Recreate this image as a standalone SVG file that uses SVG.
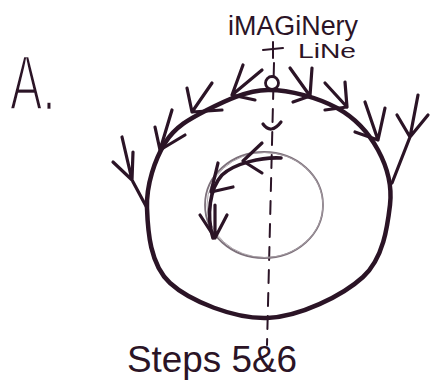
<svg xmlns="http://www.w3.org/2000/svg" width="433" height="391" viewBox="0 0 433 391">
  <style>
    .ink { fill: none; stroke: #2b1426; stroke-linecap: round; stroke-linejoin: round; }
    .arm { fill: none; stroke: #2b1426; stroke-width: 3.2; stroke-linecap: round; }
    .lbl { font-family: "Liberation Sans", Arial, sans-serif; fill: #2b1426; }
  </style>
  <rect width="433" height="391" fill="#ffffff"/>

  <g id="label-a">
    <text class="lbl" transform="translate(10,110) scale(0.62,1)" font-size="78" style="stroke:#ffffff;stroke-width:2.4">A.</text>
  </g>

  <g id="imaginary-line-label">
    <text class="lbl" x="228" y="35" font-size="27" textLength="130" lengthAdjust="spacingAndGlyphs">iMAGiNery</text>
    <text class="lbl" x="298" y="58" font-size="21" textLength="58" lengthAdjust="spacingAndGlyphs">LiNe</text>
  </g>

  <g id="steps-label">
    <text class="lbl" x="127" y="372" font-size="37" textLength="170" lengthAdjust="spacingAndGlyphs">Steps 5&amp;6</text>
  </g>

  <g id="connectors">
    <!-- imaginary vertical line -->
    <line x1="273" y1="42" x2="273" y2="58" class="ink" stroke-width="2"/>
    <line x1="263" y1="50" x2="283" y2="48" class="ink" stroke-width="2"/>
    <line x1="274" y1="63" x2="267" y2="345" class="ink" stroke-width="2" stroke-dasharray="13 10" stroke-linecap="butt"/>
  </g>

  <g id="outer-circle">
    <path class="ink" stroke-width="4.5" d="M268,90 C289.7,89.7 318.7,98 337,108 C355.3,118 369.2,133.8 378,150 C386.8,166.2 392.5,183.8 390,205 C387.5,226.2 383.5,258.2 363,277 C342.5,295.8 299.2,317 267,318 C234.8,319 190,301.3 170,283 C150,264.7 147.8,231.3 147,208 C146.2,184.7 155,159.3 165,143 C175,126.7 189.8,118.8 207,110 C224.2,101.2 246.3,90.3 268,90 Z"/>
    <!-- left-side chevrons -->
    <path class="arm" d="M243,65 L232,95 M262,70 L232,95 M255,100 L232,95"/>
    <path class="arm" d="M187,88 L192,112 M212,83 L192,112 M222,110 L192,112"/>
    <path class="arm" d="M155,127 L160,150 M172,110 L160,150 M185,135 L160,150"/>
    <!-- left branch -->
    <path class="arm" d="M147,208 L132,180 M113,162 L132,180 M122,137 L132,180 M133,152 L132,180"/>
    <!-- right-side chevrons -->
    <path class="arm" d="M290,68 L310,96 M312,68 L310,96 M293,102 L310,96"/>
    <path class="arm" d="M325,83 L347,107 M345,82 L347,107 M325,110 L347,107"/>
    <path class="arm" d="M365,102 L378,140 M385,108 L378,140 M355,132 L378,140"/>
    <!-- right branch -->
    <path class="arm" d="M392,183 L410,137 M397,115 L410,137 M418,95 L410,137 M428,115 L410,137"/>
  </g>

  <g id="top-marker">
    <circle cx="272" cy="83" r="6.5" fill="#ffffff" stroke="#2b1426" stroke-width="2.8"/>
    <path class="ink" stroke-width="3.2" d="M263,124 Q271,135 281,122"/>
  </g>

  <g id="inner-circle">
    <ellipse cx="264" cy="205" rx="59" ry="53" fill="none" stroke="#7d717b" stroke-width="1.8"/>
    <ellipse cx="265" cy="205" rx="58" ry="52.5" fill="none" stroke="#a79ea5" stroke-width="0.9"/>
  </g>

  <g id="inner-arrow">
    <path class="ink" stroke-width="3.6" d="M281,158 C262,157 235,163 222,175 C210,188 206,215 213,238"/>
    <path class="arm" d="M262,143 L243,161 M262,173 L243,161"/>
    <path class="arm" d="M218,163 L211,192 M233,187 L211,192"/>
    <path class="arm" d="M200,215 L215,238 M215,205 L215,238 M227,215 L215,238"/>
  </g>
</svg>
